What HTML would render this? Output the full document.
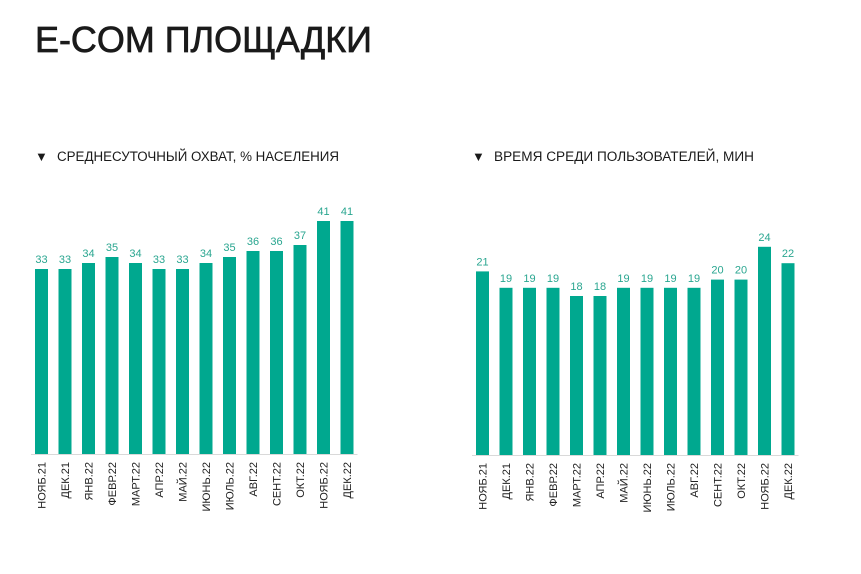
<!DOCTYPE html>
<html><head><meta charset="utf-8"><style>
html,body{margin:0;padding:0;background:#fff;}
svg{display:block;font-family:"Liberation Sans","DejaVu Sans",sans-serif;}
</style></head><body>
<svg id="chart" width="861" height="574" viewBox="0 0 861 574" xmlns="http://www.w3.org/2000/svg">
<text x="35" y="52" font-size="36" fill="#1a1a1a" stroke="#1a1a1a" stroke-width="0.7" textLength="337" lengthAdjust="spacingAndGlyphs">E-COM ПЛОЩАДКИ</text>
<text x="35" y="161" font-size="13" fill="#1a1a1a">▼</text>
<text x="57" y="161" font-size="13.5" fill="#1a1a1a" textLength="282" lengthAdjust="spacingAndGlyphs">СРЕДНЕСУТОЧНЫЙ ОХВАТ, % НАСЕЛЕНИЯ</text>
<text x="472" y="161" font-size="13" fill="#1a1a1a">▼</text>
<text x="494" y="161" font-size="13.5" fill="#1a1a1a" textLength="260" lengthAdjust="spacingAndGlyphs">ВРЕМЯ СРЕДИ ПОЛЬЗОВАТЕЛЕЙ, МИН</text>
<g id="left"></g>
<g id="right"></g>
</svg>
<script>
const categories = ["НОЯБ.21","ДЕК.21","ЯНВ.22","ФЕВР.22","МАРТ.22","АПР.22","МАЙ.22","ИЮНЬ.22","ИЮЛЬ.22","АВГ.22","СЕНТ.22","ОКТ.22","НОЯБ.22","ДЕК.22"];
const reachValues = [33,33,34,35,34,33,33,34,35,36,36,37,41,41];
const timeValues = [21,19,19,19,18,18,19,19,19,19,20,20,24,22];

const NS = "http://www.w3.org/2000/svg";
function mk(tag, attrs, parent){ const e=document.createElementNS(NS,tag); for(const k in attrs) e.setAttribute(k,attrs[k]); parent.appendChild(e); return e; }

function drawChart(gid, values, x0, base, refVal, refY, pxPerUnit, prefix){
  const g = document.getElementById(gid);
  const step = 23.5, bw = 13;
  const xScale = i => x0 + i*step;
  const yScale = v => refY - (v-refVal)*pxPerUnit;
  const axis = mk('line',{x1:x0-4,x2:xScale(values.length-1)+bw+4,y1:base+0.5,y2:base+0.5,stroke:'#d9d9d9','stroke-width':1},g);
  
  
  values.forEach((v,i)=>{
    const x = xScale(i), y = yScale(v);
    const r = mk('rect',{x:x,y:y,width:bw,height:base-y,fill:'#00a88f'},g);
    
    
    const t = mk('text',{x:x+bw/2,y:y-6,'font-size':11,fill:'#2aa690','text-anchor':'middle'},g);
    t.textContent = v;
    
    
    const cx = x+bw/2+4, cy = base+8;
    const l = mk('text',{x:cx,y:cy,'font-size':11,fill:'#222','text-anchor':'end',transform:`rotate(-90 ${cx} ${cy})`},g);
    l.textContent = categories[i];
    
    
  });
}
drawChart('left', reachValues, 35, 454, 33, 269, 6, 'reach');
drawChart('right', timeValues, 476, 455, 18, 296, 8.2, 'time');
</script>
</body></html>
